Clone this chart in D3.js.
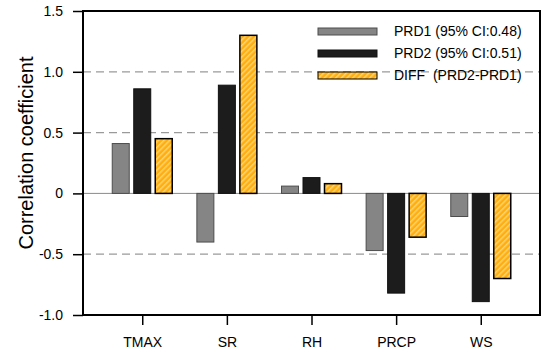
<!DOCTYPE html>
<html>
<head>
<meta charset="utf-8">
<script src="https://cdn.jsdelivr.net/npm/d3@7"></script>
<style>
  body { margin: 0; background: #fff; }
  text { font-family: "Liberation Sans", Arial, sans-serif; }
</style>
</head>
<body>
<div class="container"></div>
<script>
const w = 550;
const h = 351;
const margin = { top: 11, right: 10, bottom: 36, left: 83 };
const width = w - margin.left - margin.right;
const height = h - margin.top - margin.bottom;

// data
const categories = ['TMAX', 'SR', 'RH', 'PRCP', 'WS'];
const prd1 = [0.41, -0.40, 0.06, -0.47, -0.19];
const prd2 = [0.86, 0.89, 0.13, -0.82, -0.89];
const diff = [0.45, 1.30, 0.08, -0.36, -0.70];
const seriesNames = ['PRD1 (95% CI:0.48)', 'PRD2 (95% CI:0.51)', 'DIFF  (PRD2-PRD1)'];
const yTicks = [-1.0, -0.5, 0, 0.5, 1.0, 1.5];
const yTickLabels = ['-1.0', '-0.5', '0', '0.5', '1.0', '1.5'];
const gridValues = [-0.5, 0.5, 1.0];

const series = [
  { name: seriesNames[0], values: prd1, fill: '#858585', stroke: '#4d4d4d', sw: 1 },
  { name: seriesNames[1], values: prd2, fill: '#1c1c1c', stroke: '#111', sw: 1 },
  { name: seriesNames[2], values: diff, fill: 'url(#hatch)', stroke: '#000', sw: 1.5 }
];

const svg = d3.select('.container').append('svg')
    .attr('width', w)
    .attr('height', h);

const defs = svg.append('defs');
const pat = defs.append('pattern')
    .attr('id', 'hatch')
    .attr('patternUnits', 'userSpaceOnUse')
    .attr('width', 4)
    .attr('height', 4)
    .attr('patternTransform', 'rotate(45)');
pat.append('rect').attr('width', 4).attr('height', 4).attr('fill', '#ffad0f');
pat.append('rect').attr('width', 1.5).attr('height', 4).attr('fill', '#ffd570');

const chart = svg.append('g')
    .attr('transform', `translate(${margin.left},${margin.top})`);

const x = d3.scalePoint()
    .domain(categories)
    .range([0, width])
    .padding(0.7);

const y = d3.scaleLinear()
    .domain([-1.0, 1.5])
    .range([height, 0]);

const barW = 17;
const barStep = 21.5;

// grid
chart.append('g')
  .selectAll('line')
  .data(gridValues)
  .join('line')
    .attr('x1', 0)
    .attr('x2', width)
    .attr('y1', d => y(d))
    .attr('y2', d => y(d))
    .attr('stroke', '#9a9a9a')
    .attr('stroke-width', 1.2)
    .attr('stroke-dasharray', '8,5');

chart.append('line')
    .attr('x1', 0).attr('x2', width)
    .attr('y1', y(0)).attr('y2', y(0))
    .attr('stroke', '#8a8a8a')
    .attr('stroke-width', 1);

// bars
series.forEach((s, si) => {
  chart.append('g')
    .selectAll('rect')
    .data(s.values)
    .join('rect')
      .attr('x', (d, i) => x(categories[i]) + (si - 1) * barStep - barW / 2)
      .attr('width', barW)
      .attr('y', d => y(Math.max(0, d)))
      .attr('height', d => Math.abs(y(d) - y(0)))
      .attr('fill', s.fill)
      .attr('stroke', s.stroke)
      .attr('stroke-width', s.sw);
});

// axes
const yAxis = d3.axisLeft(y)
    .tickValues(yTicks)
    .tickSize(10)
    .tickPadding(10)
    .tickFormat((d, i) => yTickLabels[i]);

chart.append('g')
    .call(yAxis)
    .call(g => g.select('.domain').remove())
    .call(g => g.selectAll('line').attr('stroke', '#000').attr('stroke-width', 1.5))
    .call(g => g.selectAll('text').attr('font-size', 14).attr('fill', '#000')
      .style('font-family', '"Liberation Sans", Arial, sans-serif'));

const xAxis = d3.axisBottom(x)
    .tickSize(10)
    .tickPadding(12);

chart.append('g')
    .attr('transform', `translate(0,${height})`)
    .call(xAxis)
    .call(g => g.select('.domain').remove())
    .call(g => g.selectAll('line').attr('stroke', '#000').attr('stroke-width', 1.5))
    .call(g => g.selectAll('text').attr('font-size', 14).attr('fill', '#000')
      .style('font-family', '"Liberation Sans", Arial, sans-serif'));

// frame
chart.append('rect')
    .attr('width', width)
    .attr('height', height)
    .attr('fill', 'none')
    .attr('stroke', '#000')
    .attr('stroke-width', 2);

// y label
svg.append('text')
    .attr('transform', `translate(33,153) rotate(-90)`)
    .attr('text-anchor', 'middle')
    .attr('font-size', 20)
    .text('Correlation coefficient');

// legend
const legend = svg.append('g')
    .attr('transform', 'translate(318,28)');

const item = legend.selectAll('g')
    .data(series)
    .join('g')
    .attr('transform', (d, i) => `translate(0,${i * 22})`);

item.append('rect')
    .attr('width', 59)
    .attr('height', 7)
    .attr('fill', d => d.fill)
    .attr('stroke', d => d.stroke)
    .attr('stroke-width', 1);

item.append('text')
    .attr('x', 76)
    .attr('y', 3.5)
    .attr('dy', '0.35em')
    .attr('font-size', 14)
    .style('white-space', 'pre')
    .text(d => d.name);
</script>
</body>
</html>
